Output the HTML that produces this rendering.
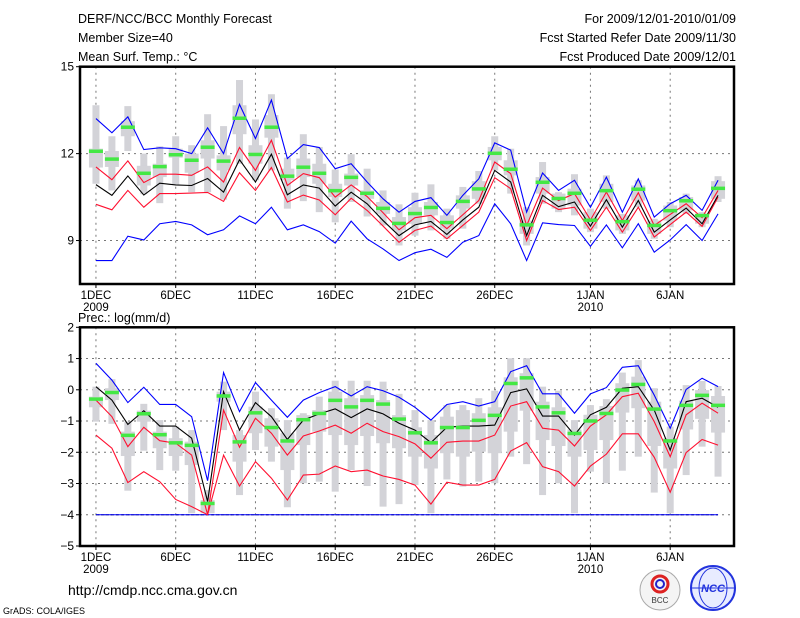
<!DOCTYPE html>
<html><head><meta charset="utf-8"><style>
html,body{margin:0;padding:0;background:#fff;}
svg{display:block;font-family:"Liberation Sans",sans-serif;}
</style></head><body>
<svg id="c" width="800" height="618" viewBox="0 0 800 618">
<g font-size="12.5" fill="#000">
<text x="78" y="23">DERF/NCC/BCC Monthly Forecast</text>
<text x="78" y="42">Member Size=40</text>
<text x="78" y="61">Mean Surf. Temp.: °C</text>
<text x="736" y="23" text-anchor="end">For 2009/12/01-2010/01/09</text>
<text x="736" y="42" text-anchor="end">Fcst Started Refer Date 2009/11/30</text>
<text x="736" y="61" text-anchor="end">Fcst Produced Date 2009/12/01</text>
<text x="78" y="322">Prec.: log(mm/d)</text>
</g>
<g id="top"></g>
<g id="bot"></g>
<text x="68" y="595" font-size="14">http://cmdp.ncc.cma.gov.cn</text>
<text x="3" y="614" font-size="9">GrADS: COLA/IGES</text>
<g>
<circle cx="660" cy="590" r="20" fill="#f4f4f4" stroke="#aaa"/>
<circle cx="660" cy="584" r="8" fill="none" stroke="#d22" stroke-width="3"/>
<circle cx="660" cy="584" r="4" fill="none" stroke="#22c" stroke-width="2"/>
<text x="660" y="603" font-size="8" text-anchor="middle" fill="#333">BCC</text>
</g>
<g>
<circle cx="713" cy="588" r="22" fill="#e8ecff" stroke="#2233dd" stroke-width="2"/>
<ellipse cx="713" cy="588" rx="14" ry="20" fill="none" stroke="#2233dd"/>
<line x1="691" y1="588" x2="735" y2="588" stroke="#2233dd"/>
<text x="713" y="592" font-size="11" font-style="italic" font-weight="bold" text-anchor="middle" fill="#2233dd">NCC</text>
</g>
</svg>
<script>
// ---- Temperature data (°C), days 1DEC..9JAN ----
const tBlueU=[13.21,12.72,13.27,12.14,12.2,12.17,12.0,12.89,12.0,13.7,12.52,13.85,11.83,12.31,12.21,11.48,11.65,11.02,10.44,9.98,10.35,10.48,9.87,10.56,11.13,12.37,12.12,9.98,11.33,10.73,11.08,10.15,11.19,9.98,11.13,9.81,10.27,10.56,10.04,11.08];
const tBlueL=[8.31,8.31,9.15,9.02,9.58,9.66,9.54,9.2,9.37,9.85,9.58,10.15,9.37,9.54,9.31,8.91,9.67,9.06,8.71,8.31,8.58,8.7,8.42,8.94,9.17,10.27,9.58,8.31,9.61,9.55,9.52,8.8,9.54,8.75,9.58,8.6,9.02,9.55,9.0,9.92];
const tRedU=[11.54,11.1,11.75,11.0,11.29,11.29,11.25,11.54,11.02,12.21,11.42,12.46,10.9,11.31,11.17,10.5,10.92,10.52,9.96,9.37,9.79,9.87,9.41,9.89,10.38,11.71,11.31,9.52,10.81,10.38,10.62,9.71,10.67,9.69,10.65,9.52,9.9,10.27,9.79,10.73];
const tRedL=[10.25,10.06,10.73,10.15,10.62,10.62,10.64,10.66,10.35,11.34,10.73,11.52,10.33,10.57,10.4,9.89,10.46,10.04,9.5,8.94,9.35,9.5,9.06,9.52,9.98,11.17,10.79,9.0,10.38,10.07,10.15,9.35,10.15,9.29,10.15,9.12,9.55,9.98,9.49,10.5];
const tMean=[10.93,10.56,11.23,10.57,10.98,10.92,10.9,11.14,10.67,11.79,11.02,11.98,10.58,10.92,10.81,10.19,10.67,10.27,9.69,9.17,9.54,9.66,9.21,9.71,10.15,11.42,11.02,9.17,10.56,10.17,10.33,9.5,10.41,9.46,10.38,9.29,9.71,10.12,9.58,10.56];
const tGreen=[12.09,11.82,12.92,11.33,11.56,11.97,11.78,12.23,11.75,13.23,11.98,12.92,11.23,11.54,11.33,10.73,11.19,10.64,10.12,9.6,9.94,10.15,9.63,10.36,10.79,12.02,11.47,9.55,11.02,10.46,10.64,9.71,10.73,9.66,10.78,9.53,10.04,10.38,9.87,10.81];
const tThinHi=[13.67,12.6,13.64,12.0,12.25,12.6,12.29,13.36,12.95,14.54,13.18,14.05,11.86,12.67,12.23,11.45,11.98,11.48,10.73,10.25,10.65,10.94,10.1,10.85,11.4,12.6,12.17,10.15,11.71,10.67,11.29,10.1,11.25,9.92,11.08,9.75,10.33,10.62,9.98,11.22];
const tThinLo=[10.96,10.73,12.09,10.6,10.29,10.94,10.67,10.67,10.41,11.65,11.08,11.42,10.1,10.36,9.98,9.63,10.33,9.83,9.52,8.83,9.17,9.35,9.06,9.41,10.27,11.42,10.62,8.83,10.27,9.98,9.87,9.29,10.1,9.23,10.15,9.06,9.46,9.92,9.46,10.33];
const tBoxHi=[12.17,12.09,13.12,11.58,11.65,12.17,12.0,12.46,11.94,13.67,12.29,13.33,11.48,11.83,11.65,10.96,11.31,10.73,10.33,9.81,10.15,10.33,9.87,10.56,11.05,12.23,11.77,9.69,11.19,10.62,10.79,9.98,10.96,9.87,10.9,9.69,10.21,10.5,9.92,11.05];
const tBoxLo=[11.52,11.54,12.6,10.9,11.19,11.86,11.34,11.83,11.42,12.67,11.65,12.55,11.08,11.19,10.96,10.5,10.9,10.44,9.92,9.35,9.58,9.87,9.41,10.1,10.44,11.77,11.25,9.23,10.62,10.1,10.21,9.41,10.33,9.35,10.38,9.23,9.69,10.04,9.58,10.44];
const tTicks=[15,12,9];
// ---- Precipitation data log(mm/d) ----
const pBlueU=[0.85,0.31,-0.41,0.08,-0.47,-0.47,-0.86,-2.91,0.55,-0.7,0.23,-0.33,-0.88,-0.33,-0.09,0.1,-0.2,0.1,-0.03,-0.24,-0.56,-0.97,-0.47,-0.38,-0.52,-0.38,0.58,0.77,-0.13,-0.13,-0.75,-0.13,0.07,0.72,0.77,-0.17,-1.23,0.01,0.37,0.1];
const pBlueL=[-4,-4,-4,-4,-4,-4,-4,-4,-4,-4,-4,-4,-4,-4,-4,-4,-4,-4,-4,-4,-4,-4,-4,-4,-4,-4,-4,-4,-4,-4,-4,-4,-4,-4,-4,-4,-4,-4,-4,-4];
const pRedU=[-0.33,-0.86,-1.82,-1.2,-1.63,-1.71,-2.09,-4.0,-0.65,-1.84,-0.91,-1.39,-2.09,-1.48,-1.32,-1.13,-1.39,-1.07,-1.34,-1.5,-1.73,-2.19,-1.68,-1.64,-1.64,-1.45,-0.52,-0.38,-1.23,-1.29,-1.8,-1.16,-0.8,-0.22,-0.11,-1.02,-2.14,-0.8,-0.43,-0.75];
const pRedL=[-1.45,-1.87,-2.97,-2.62,-2.94,-3.51,-3.74,-4.0,-2.09,-3.08,-2.3,-2.83,-3.53,-2.73,-2.7,-2.44,-2.62,-2.57,-2.76,-2.87,-3.05,-3.66,-2.96,-3.05,-3.05,-2.87,-1.96,-1.69,-2.46,-2.62,-3.08,-2.44,-2.06,-1.41,-1.41,-2.16,-3.28,-2.01,-1.59,-1.77];
const pMean=[0.1,-0.33,-1.11,-0.67,-1.16,-1.16,-1.55,-3.58,-0.06,-1.29,-0.41,-0.86,-1.59,-0.97,-0.77,-0.61,-0.89,-0.61,-0.77,-1.07,-1.29,-1.69,-1.2,-1.16,-1.16,-1.13,-0.09,0.03,-0.84,-0.84,-1.45,-0.8,-0.56,0.05,0.1,-0.65,-1.93,-0.38,-0.27,-0.56];
const pGreen=[-0.29,-0.08,-1.45,-0.76,-1.43,-1.69,-1.77,-3.63,-0.19,-1.66,-0.73,-1.2,-1.63,-0.95,-0.75,-0.33,-0.54,-0.33,-0.45,-0.93,-1.37,-1.69,-1.2,-1.2,-0.97,-0.81,0.21,0.39,-0.54,-0.73,-1.39,-0.99,-0.75,0.0,0.18,-0.61,-1.63,-0.49,-0.17,-0.49];
const pThinHi=[0.1,0.34,-1.02,-0.45,-0.97,-1.18,-1.29,-3.21,0.26,-1.29,-0.06,-0.59,-0.97,-0.75,-0.22,0.29,0.29,0.29,0.26,-0.13,-0.65,-0.97,-0.49,-0.49,-0.27,-0.03,1.01,1.01,0.1,-0.03,-0.97,-0.49,-0.3,0.55,0.95,0.05,-1.18,0.15,0.28,0.12];
const pThinLo=[-1.02,-1.09,-3.23,-1.95,-2.57,-2.59,-3.95,-3.95,-1.29,-3.37,-1.93,-2.3,-3.76,-2.99,-2.94,-3.26,-2.57,-3.08,-3.74,-3.66,-3.05,-3.95,-2.87,-3.1,-2.94,-2.99,-2.14,-2.38,-3.37,-2.99,-3.95,-2.62,-2.99,-2.59,-2.14,-3.29,-3.95,-2.73,-1.82,-2.78];
const pBoxHi=[-0.22,0.05,-1.34,-0.67,-1.34,-1.55,-1.66,-3.53,-0.06,-1.45,-0.54,-0.91,-1.39,-0.81,-0.65,-0.06,-0.27,-0.17,-0.33,-0.81,-1.2,-1.45,-0.86,-0.65,-0.75,-0.56,0.4,0.53,-0.38,-0.56,-1.27,-0.8,-0.52,0.21,0.42,-0.38,-1.55,-0.35,-0.01,-0.2];
const pBoxLo=[-0.56,-0.33,-2.12,-1.02,-1.87,-2.12,-2.41,-3.95,-0.38,-2.3,-1.39,-1.82,-2.57,-1.77,-1.34,-1.45,-1.77,-1.48,-1.71,-1.87,-2.14,-2.52,-2.03,-2.14,-1.98,-2.03,-1.34,-0.67,-1.61,-1.8,-2.14,-1.93,-1.61,-0.73,-0.59,-1.8,-2.52,-1.27,-0.93,-1.37];
const pTicks=[2,1,0,-1,-2,-3,-4,-5];
const xLabels=["1DEC","6DEC","11DEC","16DEC","21DEC","26DEC","1JAN","6JAN"];
const xLabelDays=[0,5,10,15,20,25,31,36];
const yearLabels=["2009","2010"];
const yearDays=[0,31];

const NS="http://www.w3.org/2000/svg";
function mk(parent,tag,attrs){const e=document.createElementNS(NS,tag);for(const k in attrs)e.setAttribute(k,attrs[k]);parent.appendChild(e);return e;}
const X0=80,X1=734;
function xs(d){return X0+(d+1)*(X1-X0)/41;}

function panel(gid,top,bottom,vmax,vmin,ticks,S,isPrec){
  const g=document.getElementById(gid);
  const ys=v=>top+(vmax-v)*(bottom-top)/(vmax-vmin);
  // gridlines
  xLabelDays.forEach(d=>{const l=mk(g,'line',{x1:xs(d),x2:xs(d),y1:top,y2:bottom,stroke:'#777','stroke-dasharray':'2,4','stroke-width':1});
    
    });
  ticks.forEach(v=>{
    if(v!==vmax&&v!==vmin){const l=mk(g,'line',{x1:X0,x2:X1,y1:ys(v),y2:ys(v),stroke:'#777','stroke-dasharray':'2,4','stroke-width':1});
      
      }
    const t=mk(g,'text',{x:X0-6,y:ys(v)+4,'font-size':12,'text-anchor':'end'});
    t.textContent=(v<0?'\u2212'+(-v):String(v));
    
    
  });
  // boxes
  for(let i=0;i<40;i++){
    const x=xs(i);
    const r1=mk(g,'rect',{x:x-3.5,y:ys(S.thinHi[i]),width:7,height:Math.max(1,ys(S.thinLo[i])-ys(S.thinHi[i])),fill:'#d3d3d8'});
    
    
    const r2=mk(g,'rect',{x:x-7,y:ys(S.boxHi[i]),width:14,height:Math.max(1,ys(S.boxLo[i])-ys(S.boxHi[i])),fill:'#d3d3d8'});
    
    
  }
  if(isPrec){const l=mk(g,'line',{x1:xs(0),x2:xs(39),y1:ys(-4),y2:ys(-4),stroke:'#000','stroke-dasharray':'3,2'});
    
    }
  const line=(arr,col,name)=>{const p=mk(g,'polyline',{points:arr.map((v,i)=>xs(i)+','+ys(v)).join(' '),fill:'none',stroke:col,'stroke-width':1.1});
    
    };
  line(S.blueL,'#0000ff','blue-lower-line');
  line(S.blueU,'#0000ff','blue-upper-line');
  line(S.redL,'#ff1030','red-lower-line');
  line(S.redU,'#ff1030','red-upper-line');
  line(S.mean,'#000','ensemble-mean-line');
  for(let i=0;i<40;i++){
    const r=mk(g,'rect',{x:xs(i)-7,y:ys(S.green[i])-1.5,width:14,height:3.5,fill:'#44e844'});
    
    
  }
  const f=mk(g,'rect',{x:X0,y:top,width:X1-X0,height:bottom-top,fill:'none',stroke:'#000','stroke-width':2.5});
  
  
  ticks.forEach(v=>{mk(g,'line',{x1:X0-4,x2:X0,y1:ys(v),y2:ys(v),stroke:'#000'});});
  xLabelDays.forEach((d,k)=>{
    mk(g,'line',{x1:xs(d),x2:xs(d),y1:bottom,y2:bottom+4,stroke:'#000'});
    const t=mk(g,'text',{x:xs(d),y:bottom+15,'font-size':11.5,'text-anchor':'middle'});
    t.textContent=xLabels[k];
    
    
  });
  yearDays.forEach((d,k)=>{
    const t=mk(g,'text',{x:xs(d),y:bottom+27,'font-size':11.5,'text-anchor':'middle'});
    t.textContent=yearLabels[k];
    
    
  });
}
panel('top',66.7,284,15,7.5,tTicks,{blueU:tBlueU,blueL:tBlueL,redU:tRedU,redL:tRedL,mean:tMean,green:tGreen,thinHi:tThinHi,thinLo:tThinLo,boxHi:tBoxHi,boxLo:tBoxLo},false);
panel('bot',327.3,546,2,-5,pTicks,{blueU:pBlueU,blueL:pBlueL,redU:pRedU,redL:pRedL,mean:pMean,green:pGreen,thinHi:pThinHi,thinLo:pThinLo,boxHi:pBoxHi,boxLo:pBoxLo},true);
</script>
</body></html>
